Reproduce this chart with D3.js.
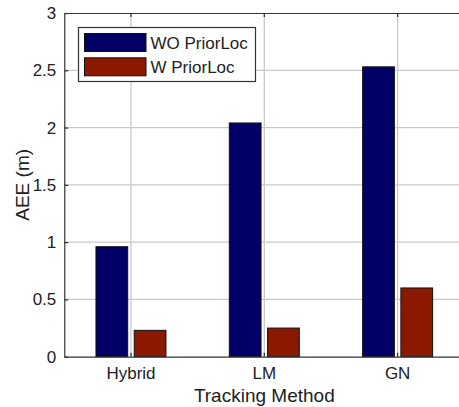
<!DOCTYPE html>
<html>
<head>
<meta charset="utf-8">
<script src="https://cdn.jsdelivr.net/npm/d3@7"></script>
<style>
  body { margin: 0; background: #fff; }
  text { font-family: Arial, "Liberation Sans", sans-serif; fill: #222; }
</style>
</head>
<body>
<svg id="chart" width="459" height="407"></svg>
<script>
// data
var methods = ["Hybrid", "LM", "GN"];
var series = ["WO PriorLoc", "W PriorLoc"];
var woPrior = [0.96, 2.04, 2.53];
var wPrior = [0.23, 0.25, 0.60];
var yTicks = [0, 0.5, 1, 1.5, 2, 2.5, 3];
var colors = ["#000066", "#8a1900"];

var width = 459, height = 407;
var svg = d3.select("#chart");

// plot box (right side runs past the picture edge, like the original crop)
var pLeft = 64.3, pTop = 13, pBottom = 356.7, pRight = 464.3;

var x = d3.scaleBand().domain(methods).range([pLeft, pRight]).padding(0);
var xs = d3.scaleBand().domain(series).range([-35, 35]).paddingInner(0.17);
var y = d3.scaleLinear().domain([0, 3]).range([pBottom, pTop]);

var rows = methods.map(function(m, i) {
  return { method: m, vals: [woPrior[i], wPrior[i]] };
});

// grid
svg.append("g").selectAll("line")
  .data(yTicks.slice(1, -1))
  .enter().append("line")
  .attr("x1", pLeft).attr("x2", width)
  .attr("y1", d => y(d)).attr("y2", d => y(d))
  .attr("stroke", "#c9c9c9").attr("stroke-width", 1.3);

svg.append("g").selectAll("line")
  .data(methods)
  .enter().append("line")
  .attr("x1", d => x(d) + x.bandwidth() / 2).attr("x2", d => x(d) + x.bandwidth() / 2)
  .attr("y1", pTop).attr("y2", pBottom)
  .attr("stroke", "#c9c9c9").attr("stroke-width", 1.3);

// bars
var groups = svg.append("g").selectAll("g")
  .data(rows)
  .enter().append("g")
  .attr("transform", d => "translate(" + (x(d.method) + x.bandwidth() / 2) + ",0)");

groups.selectAll("rect")
  .data(d => d.vals.map((v, j) => ({ s: series[j], v: v, j: j })))
  .enter().append("rect")
  .attr("x", d => xs(d.s))
  .attr("width", xs.bandwidth())
  .attr("y", d => y(d.v))
  .attr("height", d => pBottom - y(d.v))
  .attr("fill", d => colors[d.j])
  .attr("stroke", "#111")
  .attr("stroke-width", 1);

// axes
var yAxis = d3.axisLeft(y).tickValues(yTicks).tickFormat(d3.format("")).tickSizeInner(-4).tickSizeOuter(0).tickPadding(8);
var gy = svg.append("g").attr("transform", "translate(" + pLeft + ",0)").call(yAxis);
gy.selectAll("text").style("font-size", "17px");

var xAxis = d3.axisBottom(x).tickSizeInner(-4).tickSizeOuter(0).tickPadding(10);
var gx = svg.append("g").attr("transform", "translate(0," + pBottom + ")").call(xAxis);
gx.selectAll("text").style("font-size", "17px");

var xTop = d3.axisTop(x).tickSizeInner(-4).tickSizeOuter(0).tickFormat("");
svg.append("g").attr("transform", "translate(0," + pTop + ")").call(xTop);

svg.selectAll(".domain, .tick line").attr("stroke", "#333").attr("stroke-width", 1.2);
svg.selectAll(".tick text").attr("fill", "#222");

// axis labels
svg.append("text")
  .attr("x", x("LM") + x.bandwidth() / 2).attr("y", 402)
  .attr("text-anchor", "middle")
  .style("font-size", "19px")
  .text("Tracking Method");

svg.append("text")
  .attr("transform", "translate(28.5," + ((pTop + pBottom) / 2) + ") rotate(-90)")
  .attr("text-anchor", "middle")
  .style("font-size", "19px")
  .text("AEE (m)");

// legend
var lg = svg.append("g");
lg.append("rect")
  .attr("x", 78.5).attr("y", 27.5).attr("width", 177).attr("height", 54)
  .attr("fill", "#fff").attr("stroke", "#333").attr("stroke-width", 1.2);
series.forEach(function(s, i) {
  lg.append("rect")
    .attr("x", 84.5).attr("y", 33.5 + i * 24.3).attr("width", 61.5).attr("height", 18)
    .attr("fill", colors[i]).attr("stroke", "#111").attr("stroke-width", 1);
  lg.append("text")
    .attr("x", 150.5).attr("y", 48.5 + i * 24.3)
    .style("font-size", "17px")
    .text(s);
});
</script>
</body>
</html>
